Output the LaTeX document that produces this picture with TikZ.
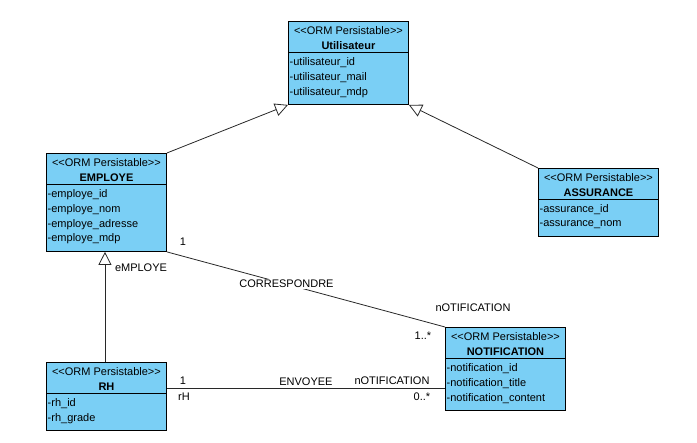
\documentclass[tikz,border=0pt]{standalone}
\usepackage{fontspec}
\setmainfont{Liberation Sans}
\usetikzlibrary{arrows.meta}
\definecolor{umlblue}{RGB}{122,207,245}
\definecolor{connc}{RGB}{40,40,40}
\newcommand{\ormster}{\textless\kern0pt\textless ORM Persistable\textgreater\kern0pt\textgreater}
\begin{document}
\begin{tikzpicture}[x=1pt,y=-1pt,
 classbox/.style={draw=black, fill=umlblue, minimum width=120pt, inner sep=0pt, anchor=north west, line width=0.9pt},
 stereo/.style={font=\fontsize{11}{13}\selectfont, inner sep=0pt},
 cname/.style={font=\fontsize{11}{13}\selectfont\bfseries, inner sep=0pt},
 attr/.style={font=\fontsize{11}{13}\selectfont, inner sep=0pt, anchor=west},
 lbl/.style={font=\fontsize{11}{13}\selectfont, inner sep=1pt},
 divider/.style={draw=black, line width=0.9pt},
 conn/.style={draw=connc, line width=0.8pt},
 gen/.style={conn, -{Triangle[open, length=13pt, width=13pt, fill=white]}}]
\useasboundingbox (0,0) rectangle (697,443);

% ---------- Utilisateur ----------
\node[classbox, minimum height=83pt] (util) at (288,21) {};
\draw[divider] ([yshift=-31pt]util.north west) -- ([yshift=-31pt]util.north east);
\node[stereo] (util-s) at ([yshift=-9.5pt]util.north) {\ormster};
\node[cname] (util-n) at ([yshift=-24.5pt]util.north) {Utilisateur};
\node[attr] (util-a1) at ([xshift=1.5pt,yshift=-42pt]util.north west) {-utilisateur\_id};
\node[attr] (util-a2) at ([xshift=1.5pt,yshift=-56.7pt]util.north west) {-utilisateur\_mail};
\node[attr] (util-a3) at ([xshift=1.5pt,yshift=-71.4pt]util.north west) {-utilisateur\_mdp};

% ---------- EMPLOYE ----------
\node[classbox, minimum height=98pt] (emp) at (46,153) {};
\draw[divider] ([yshift=-31pt]emp.north west) -- ([yshift=-31pt]emp.north east);
\node[stereo] (emp-s) at ([yshift=-9.5pt]emp.north) {\ormster};
\node[cname] (emp-n) at ([yshift=-24.5pt]emp.north) {EMPLOYE};
\node[attr] (emp-a1) at ([xshift=1.5pt,yshift=-42pt]emp.north west) {-employe\_id};
\node[attr] (emp-a2) at ([xshift=1.5pt,yshift=-56.7pt]emp.north west) {-employe\_nom};
\node[attr] (emp-a3) at ([xshift=1.5pt,yshift=-71.4pt]emp.north west) {-employe\_adresse};
\node[attr] (emp-a4) at ([xshift=1.5pt,yshift=-86.1pt]emp.north west) {-employe\_mdp};

% ---------- ASSURANCE ----------
\node[classbox, minimum height=68pt] (ass) at (538,168) {};
\draw[divider] ([yshift=-31pt]ass.north west) -- ([yshift=-31pt]ass.north east);
\node[stereo] (ass-s) at ([yshift=-9.5pt]ass.north) {\ormster};
\node[cname] (ass-n) at ([yshift=-24.5pt]ass.north) {ASSURANCE};
\node[attr] (ass-a1) at ([xshift=1.5pt,yshift=-42pt]ass.north west) {-assurance\_id};
\node[attr] (ass-a2) at ([xshift=1.5pt,yshift=-56.7pt]ass.north west) {-assurance\_nom};

% ---------- NOTIFICATION ----------
\node[classbox, minimum height=83pt] (notif) at (445,327) {};
\draw[divider] ([yshift=-31pt]notif.north west) -- ([yshift=-31pt]notif.north east);
\node[stereo] (notif-s) at ([yshift=-9.5pt]notif.north) {\ormster};
\node[cname] (notif-n) at ([yshift=-24.5pt]notif.north) {NOTIFICATION};
\node[attr] (notif-a1) at ([xshift=1.5pt,yshift=-42pt]notif.north west) {-notification\_id};
\node[attr] (notif-a2) at ([xshift=1.5pt,yshift=-56.7pt]notif.north west) {-notification\_title};
\node[attr] (notif-a3) at ([xshift=1.5pt,yshift=-71.4pt]notif.north west) {-notification\_content};

% ---------- RH ----------
\node[classbox, minimum height=68pt] (rh) at (46,362) {};
\draw[divider] ([yshift=-31pt]rh.north west) -- ([yshift=-31pt]rh.north east);
\node[stereo] (rh-s) at ([yshift=-9.5pt]rh.north) {\ormster};
\node[cname] (rh-n) at ([yshift=-24.5pt]rh.north) {RH};
\node[attr] (rh-a1) at ([xshift=1.5pt,yshift=-42pt]rh.north west) {-rh\_id};
\node[attr] (rh-a2) at ([xshift=1.5pt,yshift=-56.7pt]rh.north west) {-rh\_grade};

% ---------- Generalizations ----------
\draw[gen] (emp.north east) -- (util.south west);
\draw[gen] (ass.north west) -- (util.south east);
\draw[gen] ([xshift=-1.5pt]rh.north) -- ([xshift=-1.5pt]emp.south);
\node[lbl] (l-emp) at (141,268) {eMPLOYE};

% ---------- CORRESPONDRE ----------
\draw[conn] (emp.south east) -- node[pos=0.43, fill=white, lbl] (corr) {CORRESPONDRE} (notif.north west);
\node[lbl] (l-c1) at (183,242) {1};
\node[lbl] (l-cn) at (473,308) {nOTIFICATION};
\node[lbl] (l-cm) at (423,336) {1..*};

% ---------- ENVOYEE ----------
\coordinate (e1) at ([yshift=8pt]rh.east);
\coordinate (e2) at (e1 -| notif.west);
\draw[conn] (e1) -- node[lbl, above=1pt] (env) {ENVOYEE} (e2);
\node[lbl] (l-e1) at (183,381) {1};
\node[lbl] (l-erh) at (184,397) {rH};
\node[lbl] (l-en) at (392,381) {nOTIFICATION};
\node[lbl] (l-em) at (422,397) {0..*};
\end{tikzpicture}
\end{document}
